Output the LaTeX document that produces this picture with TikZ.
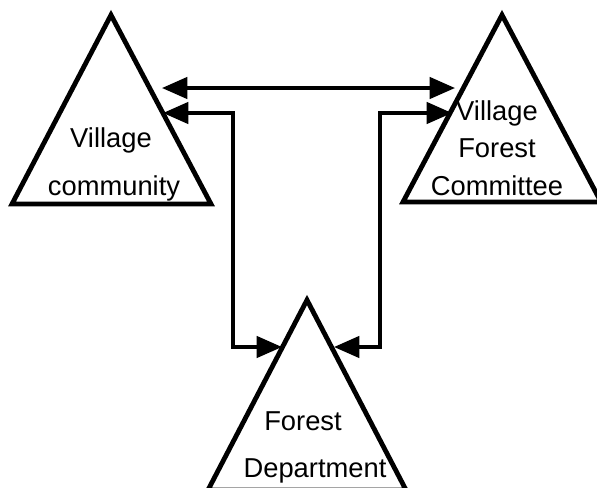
\documentclass[tikz,border=0pt]{standalone}
\usepackage{fontspec}
\setmainfont{Liberation Sans}
\usetikzlibrary{arrows.meta}
\begin{document}
\begin{tikzpicture}[x=0.75pt,y=-0.75pt,
  group/.style={draw=black,line width=3.6pt,line join=miter},
  link/.style={draw=black,line width=2.6pt,{Triangle[length=19pt,width=16pt]}-{Triangle[length=19pt,width=16pt]}},
  label/.style={anchor=base,inner sep=0pt,font=\fontsize{20.5}{21}\selectfont}]
\useasboundingbox (0,0) rectangle (597,487);
% the three groups
\draw[group] (111,15) -- (211,204) -- (12,204) -- cycle;
\draw[group] (502,15) -- (601,202) -- (403,202) -- cycle;
\draw[group] (307,300) -- (406,490) -- (208,490) -- cycle;
% labels
\node[label] (vc1) at (111,147) {Village};
\node[label] (vc2) at (114,195) {community};
\node[label] (vfc1) at (497,120) {Village};
\node[label] (vfc2) at (497,157) {Forest};
\node[label] (vfc3) at (497,195) {Committee};
\node[label] (fd1) at (303,430) {Forest};
\node[label] (fd2) at (315,477) {Department};
% connector ends and corners
\coordinate (vcTop) at (162,88);
\coordinate (vfcTop) at (455,88);
\coordinate (vcLow) at (163,113);
\coordinate (vfcLow) at (452,113);
\coordinate (fdL) at (282,347);
\coordinate (fdR) at (334,347);
\coordinate (cornerL1) at (233,113);
\coordinate (cornerL2) at (233,347);
\coordinate (cornerR1) at (380,113);
\coordinate (cornerR2) at (380,347);
% connectors
\draw[link] (vcTop) -- (vfcTop);
\draw[link] (vcLow) -- (cornerL1) -- (cornerL2) -- (fdL);
\draw[link] (vfcLow) -- (cornerR1) -- (cornerR2) -- (fdR);
\end{tikzpicture}
\end{document}
